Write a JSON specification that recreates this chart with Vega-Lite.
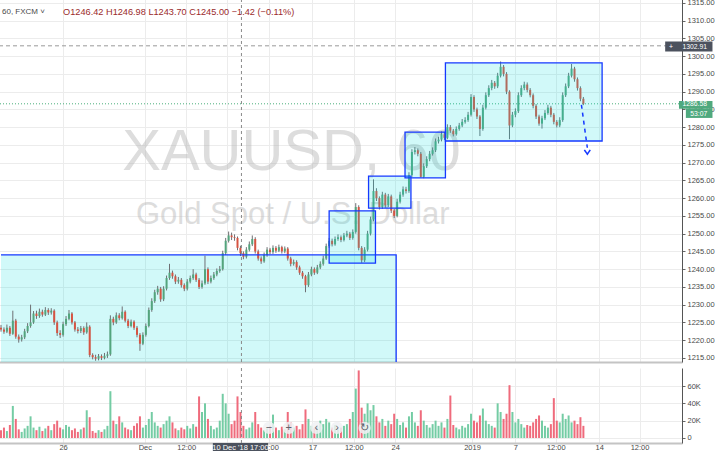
{
  "$schema": "https://vega.github.io/schema/vega-lite/v6.json",
  "padding": {"left": -5, "top": -2, "right": 0, "bottom": 0},
  "spacing": 2,
  "background": "white",
  "config": {"font": "Liberation Sans", "view": {"stroke": null}},
  "datasets": {
    "candles": [
      {"t":0,"o":1223.5,"h":1224.3,"l":1222.4,"c":1223.0,"v":9},
      {"t":3,"o":1223.0,"h":1223.6,"l":1221.8,"c":1222.4,"v":12},
      {"t":6,"o":1222.4,"h":1224.4,"l":1222.0,"c":1223.5,"v":8},
      {"t":9,"o":1223.5,"h":1224.0,"l":1221.2,"c":1221.8,"v":15},
      {"t":12,"o":1221.8,"h":1228.3,"l":1221.5,"c":1225.5,"v":37},
      {"t":15,"o":1225.5,"h":1226.0,"l":1220.4,"c":1221.0,"v":22},
      {"t":18,"o":1221.0,"h":1221.6,"l":1219.3,"c":1220.2,"v":10},
      {"t":21,"o":1220.2,"h":1221.5,"l":1219.6,"c":1220.8,"v":7},
      {"t":24,"o":1220.8,"h":1223.2,"l":1220.3,"c":1222.5,"v":11},
      {"t":27,"o":1222.5,"h":1224.8,"l":1222.0,"c":1224.0,"v":14},
      {"t":30,"o":1224.0,"h":1230.0,"l":1223.5,"c":1225.0,"v":25},
      {"t":33,"o":1225.0,"h":1228.2,"l":1224.6,"c":1227.5,"v":12},
      {"t":36,"o":1227.5,"h":1228.3,"l":1226.0,"c":1226.8,"v":9},
      {"t":39,"o":1226.8,"h":1228.9,"l":1226.3,"c":1228.0,"v":13},
      {"t":42,"o":1228.0,"h":1228.6,"l":1226.6,"c":1227.2,"v":8},
      {"t":45,"o":1227.2,"h":1229.3,"l":1226.8,"c":1228.5,"v":11},
      {"t":48,"o":1228.5,"h":1229.0,"l":1227.1,"c":1227.8,"v":14},
      {"t":51,"o":1227.8,"h":1229.0,"l":1227.2,"c":1228.3,"v":9},
      {"t":54,"o":1228.3,"h":1228.7,"l":1224.3,"c":1225.0,"v":16},
      {"t":57,"o":1225.0,"h":1225.5,"l":1221.2,"c":1222.0,"v":20},
      {"t":60,"o":1222.0,"h":1222.8,"l":1220.6,"c":1221.5,"v":12},
      {"t":63,"o":1221.5,"h":1225.2,"l":1221.0,"c":1224.5,"v":10},
      {"t":66,"o":1224.5,"h":1226.8,"l":1224.0,"c":1226.0,"v":15},
      {"t":69,"o":1226.0,"h":1228.5,"l":1225.6,"c":1227.5,"v":13},
      {"t":72,"o":1227.5,"h":1227.9,"l":1224.4,"c":1225.0,"v":9},
      {"t":75,"o":1225.0,"h":1225.4,"l":1222.4,"c":1223.0,"v":11},
      {"t":78,"o":1223.0,"h":1223.7,"l":1221.9,"c":1222.6,"v":7},
      {"t":81,"o":1222.6,"h":1224.0,"l":1222.0,"c":1223.4,"v":10},
      {"t":84,"o":1223.4,"h":1223.9,"l":1221.5,"c":1222.2,"v":12},
      {"t":87,"o":1222.2,"h":1225.0,"l":1221.8,"c":1223.8,"v":32},
      {"t":90,"o":1223.8,"h":1224.2,"l":1215.2,"c":1215.8,"v":24},
      {"t":93,"o":1215.8,"h":1216.3,"l":1214.6,"c":1215.2,"v":8},
      {"t":96,"o":1215.2,"h":1215.9,"l":1214.2,"c":1214.8,"v":6},
      {"t":99,"o":1214.8,"h":1216.1,"l":1214.3,"c":1215.5,"v":9},
      {"t":102,"o":1215.5,"h":1216.0,"l":1214.4,"c":1215.0,"v":7},
      {"t":105,"o":1215.0,"h":1216.4,"l":1214.6,"c":1215.6,"v":10},
      {"t":108,"o":1215.6,"h":1216.8,"l":1215.0,"c":1216.0,"v":14},
      {"t":111,"o":1216.0,"h":1227.0,"l":1215.6,"c":1226.0,"v":54},
      {"t":114,"o":1226.0,"h":1226.6,"l":1224.2,"c":1225.0,"v":20},
      {"t":117,"o":1225.0,"h":1227.8,"l":1224.6,"c":1227.0,"v":16},
      {"t":120,"o":1227.0,"h":1227.6,"l":1225.6,"c":1226.2,"v":25},
      {"t":123,"o":1226.2,"h":1229.5,"l":1225.8,"c":1228.0,"v":18},
      {"t":126,"o":1228.0,"h":1228.4,"l":1225.0,"c":1225.5,"v":12},
      {"t":129,"o":1225.5,"h":1226.0,"l":1223.4,"c":1224.0,"v":10},
      {"t":132,"o":1224.0,"h":1225.8,"l":1223.6,"c":1225.2,"v":9},
      {"t":135,"o":1225.2,"h":1225.6,"l":1222.9,"c":1223.5,"v":14},
      {"t":138,"o":1223.5,"h":1224.0,"l":1220.8,"c":1221.5,"v":17},
      {"t":141,"o":1221.5,"h":1222.0,"l":1217.0,"c":1219.0,"v":25},
      {"t":144,"o":1219.0,"h":1222.2,"l":1218.6,"c":1221.5,"v":12},
      {"t":147,"o":1221.5,"h":1224.7,"l":1221.0,"c":1224.0,"v":15},
      {"t":150,"o":1224.0,"h":1229.2,"l":1223.6,"c":1228.5,"v":22},
      {"t":153,"o":1228.5,"h":1231.8,"l":1228.0,"c":1231.0,"v":30},
      {"t":156,"o":1231.0,"h":1234.2,"l":1230.5,"c":1233.5,"v":18},
      {"t":159,"o":1233.5,"h":1235.3,"l":1232.8,"c":1234.5,"v":14},
      {"t":162,"o":1234.5,"h":1235.0,"l":1230.8,"c":1231.5,"v":12},
      {"t":165,"o":1231.5,"h":1235.2,"l":1231.0,"c":1234.5,"v":16},
      {"t":168,"o":1234.5,"h":1238.2,"l":1234.0,"c":1237.5,"v":20},
      {"t":171,"o":1237.5,"h":1241.5,"l":1237.0,"c":1239.0,"v":25},
      {"t":174,"o":1239.0,"h":1239.6,"l":1237.3,"c":1238.0,"v":18},
      {"t":177,"o":1238.0,"h":1238.5,"l":1235.8,"c":1236.5,"v":11},
      {"t":180,"o":1236.5,"h":1237.8,"l":1235.9,"c":1237.0,"v":9},
      {"t":183,"o":1237.0,"h":1237.5,"l":1234.8,"c":1235.5,"v":12},
      {"t":186,"o":1235.5,"h":1236.0,"l":1233.8,"c":1234.5,"v":10},
      {"t":189,"o":1234.5,"h":1237.2,"l":1234.0,"c":1236.5,"v":14},
      {"t":192,"o":1236.5,"h":1238.2,"l":1236.0,"c":1237.5,"v":11},
      {"t":195,"o":1237.5,"h":1240.0,"l":1237.0,"c":1238.5,"v":16},
      {"t":198,"o":1238.5,"h":1239.0,"l":1236.4,"c":1237.0,"v":13},
      {"t":201,"o":1237.0,"h":1237.5,"l":1234.4,"c":1235.0,"v":48},
      {"t":204,"o":1235.0,"h":1236.8,"l":1234.5,"c":1236.0,"v":30},
      {"t":207,"o":1236.0,"h":1243.8,"l":1235.6,"c":1240.0,"v":40},
      {"t":210,"o":1240.0,"h":1240.5,"l":1235.8,"c":1236.5,"v":22},
      {"t":213,"o":1236.5,"h":1238.2,"l":1236.0,"c":1237.5,"v":14},
      {"t":216,"o":1237.5,"h":1239.2,"l":1237.0,"c":1238.5,"v":10},
      {"t":219,"o":1238.5,"h":1240.2,"l":1238.0,"c":1239.5,"v":12},
      {"t":222,"o":1239.5,"h":1240.9,"l":1239.0,"c":1240.0,"v":20},
      {"t":225,"o":1240.0,"h":1245.2,"l":1239.6,"c":1244.5,"v":51},
      {"t":228,"o":1244.5,"h":1248.8,"l":1244.0,"c":1248.0,"v":40},
      {"t":231,"o":1248.0,"h":1250.6,"l":1247.5,"c":1249.5,"v":28},
      {"t":234,"o":1249.5,"h":1250.3,"l":1248.2,"c":1249.0,"v":16},
      {"t":237,"o":1249.0,"h":1249.8,"l":1248.0,"c":1248.8,"v":20},
      {"t":240,"o":1248.8,"h":1249.2,"l":1245.3,"c":1246.0,"v":48},
      {"t":243,"o":1246.0,"h":1246.6,"l":1243.7,"c":1244.5,"v":30},
      {"t":246,"o":1244.5,"h":1245.0,"l":1242.8,"c":1243.5,"v":14},
      {"t":249,"o":1243.5,"h":1246.2,"l":1243.0,"c":1245.5,"v":10},
      {"t":252,"o":1245.5,"h":1247.8,"l":1245.0,"c":1247.0,"v":12},
      {"t":255,"o":1247.0,"h":1249.5,"l":1246.5,"c":1248.5,"v":18},
      {"t":258,"o":1248.5,"h":1249.0,"l":1244.4,"c":1245.0,"v":30},
      {"t":261,"o":1245.0,"h":1245.5,"l":1242.4,"c":1243.0,"v":16},
      {"t":264,"o":1243.0,"h":1243.6,"l":1241.5,"c":1242.2,"v":12},
      {"t":267,"o":1242.2,"h":1244.7,"l":1241.8,"c":1244.0,"v":9},
      {"t":270,"o":1244.0,"h":1246.2,"l":1243.5,"c":1245.5,"v":11},
      {"t":273,"o":1245.5,"h":1246.0,"l":1244.2,"c":1244.8,"v":14},
      {"t":276,"o":1244.8,"h":1246.7,"l":1244.3,"c":1246.0,"v":27},
      {"t":279,"o":1246.0,"h":1246.5,"l":1244.6,"c":1245.2,"v":12},
      {"t":282,"o":1245.2,"h":1246.9,"l":1244.8,"c":1246.2,"v":9},
      {"t":285,"o":1246.2,"h":1246.6,"l":1244.4,"c":1245.0,"v":13},
      {"t":288,"o":1245.0,"h":1246.4,"l":1244.5,"c":1245.8,"v":10},
      {"t":291,"o":1245.8,"h":1246.2,"l":1242.4,"c":1243.0,"v":30},
      {"t":294,"o":1243.0,"h":1243.5,"l":1240.8,"c":1241.5,"v":18},
      {"t":297,"o":1241.5,"h":1242.7,"l":1241.0,"c":1242.0,"v":12},
      {"t":300,"o":1242.0,"h":1242.5,"l":1239.8,"c":1240.5,"v":14},
      {"t":303,"o":1240.5,"h":1241.0,"l":1238.4,"c":1239.0,"v":10},
      {"t":306,"o":1239.0,"h":1239.5,"l":1237.3,"c":1238.0,"v":16},
      {"t":309,"o":1238.0,"h":1238.4,"l":1233.5,"c":1235.5,"v":33},
      {"t":312,"o":1235.5,"h":1239.2,"l":1235.0,"c":1238.5,"v":22},
      {"t":315,"o":1238.5,"h":1240.7,"l":1238.0,"c":1240.0,"v":14},
      {"t":318,"o":1240.0,"h":1240.5,"l":1238.4,"c":1239.0,"v":11},
      {"t":321,"o":1239.0,"h":1241.2,"l":1238.6,"c":1240.5,"v":13},
      {"t":324,"o":1240.5,"h":1242.2,"l":1240.0,"c":1241.5,"v":20},
      {"t":327,"o":1241.5,"h":1243.8,"l":1241.0,"c":1243.0,"v":16},
      {"t":330,"o":1243.0,"h":1247.2,"l":1242.6,"c":1246.5,"v":22},
      {"t":333,"o":1246.5,"h":1248.8,"l":1246.0,"c":1248.0,"v":18},
      {"t":336,"o":1248.0,"h":1248.6,"l":1246.4,"c":1247.0,"v":12},
      {"t":339,"o":1247.0,"h":1249.2,"l":1246.6,"c":1248.5,"v":15},
      {"t":342,"o":1248.5,"h":1249.8,"l":1248.0,"c":1249.0,"v":10},
      {"t":345,"o":1249.0,"h":1249.5,"l":1247.6,"c":1248.2,"v":12},
      {"t":348,"o":1248.2,"h":1250.2,"l":1247.8,"c":1249.5,"v":14},
      {"t":351,"o":1249.5,"h":1250.8,"l":1249.0,"c":1250.0,"v":16},
      {"t":354,"o":1250.0,"h":1250.5,"l":1248.2,"c":1248.8,"v":22},
      {"t":357,"o":1248.8,"h":1251.2,"l":1248.3,"c":1250.5,"v":30},
      {"t":360,"o":1250.5,"h":1258.6,"l":1250.0,"c":1257.5,"v":57},
      {"t":363,"o":1257.5,"h":1258.0,"l":1245.3,"c":1246.0,"v":78},
      {"t":366,"o":1246.0,"h":1246.5,"l":1241.8,"c":1242.5,"v":35},
      {"t":369,"o":1242.5,"h":1246.2,"l":1242.0,"c":1245.5,"v":28},
      {"t":372,"o":1245.5,"h":1250.8,"l":1245.0,"c":1250.0,"v":40},
      {"t":375,"o":1250.0,"h":1254.8,"l":1249.5,"c":1254.0,"v":32},
      {"t":378,"o":1254.0,"h":1265.3,"l":1253.5,"c":1262.0,"v":38},
      {"t":381,"o":1262.0,"h":1262.8,"l":1259.2,"c":1260.0,"v":25},
      {"t":384,"o":1260.0,"h":1260.5,"l":1256.8,"c":1257.5,"v":18},
      {"t":387,"o":1257.5,"h":1261.8,"l":1257.0,"c":1261.0,"v":22},
      {"t":390,"o":1261.0,"h":1261.5,"l":1257.3,"c":1258.0,"v":14},
      {"t":393,"o":1258.0,"h":1261.2,"l":1257.5,"c":1260.5,"v":20},
      {"t":396,"o":1260.5,"h":1261.0,"l":1255.8,"c":1256.5,"v":16},
      {"t":399,"o":1256.5,"h":1257.0,"l":1254.4,"c":1255.0,"v":28},
      {"t":402,"o":1255.0,"h":1259.8,"l":1254.6,"c":1259.0,"v":22},
      {"t":405,"o":1259.0,"h":1261.8,"l":1258.5,"c":1261.0,"v":15},
      {"t":408,"o":1261.0,"h":1263.3,"l":1260.4,"c":1262.5,"v":18},
      {"t":411,"o":1262.5,"h":1263.2,"l":1261.3,"c":1262.0,"v":12},
      {"t":414,"o":1262.0,"h":1267.3,"l":1261.5,"c":1266.5,"v":25},
      {"t":417,"o":1266.5,"h":1273.8,"l":1266.0,"c":1273.0,"v":30},
      {"t":420,"o":1273.0,"h":1274.4,"l":1272.3,"c":1273.5,"v":18},
      {"t":423,"o":1273.5,"h":1274.0,"l":1271.8,"c":1272.5,"v":14},
      {"t":426,"o":1272.5,"h":1273.0,"l":1265.8,"c":1266.0,"v":32},
      {"t":429,"o":1266.0,"h":1269.8,"l":1265.6,"c":1269.0,"v":20},
      {"t":432,"o":1269.0,"h":1271.8,"l":1268.5,"c":1271.0,"v":15},
      {"t":435,"o":1271.0,"h":1273.3,"l":1270.4,"c":1272.5,"v":12},
      {"t":438,"o":1272.5,"h":1274.3,"l":1272.0,"c":1273.5,"v":16},
      {"t":441,"o":1273.5,"h":1276.8,"l":1273.0,"c":1276.0,"v":20},
      {"t":444,"o":1276.0,"h":1277.3,"l":1275.4,"c":1276.5,"v":14},
      {"t":447,"o":1276.5,"h":1278.8,"l":1276.0,"c":1278.0,"v":18},
      {"t":450,"o":1278.0,"h":1278.6,"l":1276.4,"c":1277.0,"v":12},
      {"t":453,"o":1277.0,"h":1280.8,"l":1276.6,"c":1280.0,"v":22},
      {"t":456,"o":1280.0,"h":1280.6,"l":1278.4,"c":1279.0,"v":49},
      {"t":459,"o":1279.0,"h":1279.5,"l":1277.4,"c":1278.0,"v":15},
      {"t":462,"o":1278.0,"h":1280.2,"l":1277.6,"c":1279.5,"v":12},
      {"t":465,"o":1279.5,"h":1281.2,"l":1279.0,"c":1280.5,"v":10},
      {"t":468,"o":1280.5,"h":1282.3,"l":1280.0,"c":1281.5,"v":14},
      {"t":471,"o":1281.5,"h":1282.8,"l":1281.0,"c":1282.0,"v":12},
      {"t":474,"o":1282.0,"h":1284.3,"l":1281.5,"c":1283.5,"v":16},
      {"t":477,"o":1283.5,"h":1289.3,"l":1283.0,"c":1288.5,"v":28},
      {"t":480,"o":1288.5,"h":1289.0,"l":1284.3,"c":1285.0,"v":20},
      {"t":483,"o":1285.0,"h":1285.5,"l":1282.3,"c":1283.0,"v":18},
      {"t":486,"o":1283.0,"h":1283.4,"l":1277.5,"c":1279.5,"v":26},
      {"t":489,"o":1279.5,"h":1286.3,"l":1279.0,"c":1285.5,"v":34},
      {"t":492,"o":1285.5,"h":1289.8,"l":1285.0,"c":1289.0,"v":20},
      {"t":495,"o":1289.0,"h":1291.8,"l":1288.5,"c":1291.0,"v":16},
      {"t":498,"o":1291.0,"h":1293.3,"l":1290.4,"c":1292.5,"v":14},
      {"t":501,"o":1292.5,"h":1293.0,"l":1290.8,"c":1291.5,"v":12},
      {"t":504,"o":1291.5,"h":1295.3,"l":1291.0,"c":1294.5,"v":40},
      {"t":507,"o":1294.5,"h":1298.5,"l":1294.0,"c":1297.0,"v":30},
      {"t":510,"o":1297.0,"h":1297.5,"l":1294.3,"c":1295.0,"v":22},
      {"t":513,"o":1295.0,"h":1295.5,"l":1289.3,"c":1290.0,"v":28},
      {"t":516,"o":1290.0,"h":1290.4,"l":1276.6,"c":1280.5,"v":61},
      {"t":519,"o":1280.5,"h":1284.3,"l":1280.0,"c":1283.5,"v":30},
      {"t":522,"o":1283.5,"h":1285.3,"l":1282.8,"c":1284.5,"v":18},
      {"t":525,"o":1284.5,"h":1289.8,"l":1284.0,"c":1289.0,"v":22},
      {"t":528,"o":1289.0,"h":1291.8,"l":1288.5,"c":1291.0,"v":16},
      {"t":531,"o":1291.0,"h":1292.8,"l":1290.4,"c":1292.0,"v":12},
      {"t":534,"o":1292.0,"h":1292.6,"l":1289.8,"c":1290.5,"v":15},
      {"t":537,"o":1290.5,"h":1291.0,"l":1288.4,"c":1289.0,"v":14},
      {"t":540,"o":1289.0,"h":1289.5,"l":1285.3,"c":1286.0,"v":18},
      {"t":543,"o":1286.0,"h":1286.5,"l":1282.3,"c":1283.0,"v":22},
      {"t":546,"o":1283.0,"h":1283.5,"l":1280.4,"c":1281.0,"v":26},
      {"t":549,"o":1281.0,"h":1283.2,"l":1279.6,"c":1282.5,"v":20},
      {"t":552,"o":1282.5,"h":1284.8,"l":1282.0,"c":1284.0,"v":14},
      {"t":555,"o":1284.0,"h":1286.3,"l":1283.5,"c":1285.5,"v":12},
      {"t":558,"o":1285.5,"h":1286.0,"l":1282.8,"c":1283.5,"v":16},
      {"t":561,"o":1283.5,"h":1284.0,"l":1280.8,"c":1281.5,"v":46},
      {"t":564,"o":1281.5,"h":1282.0,"l":1279.9,"c":1280.5,"v":20},
      {"t":567,"o":1280.5,"h":1282.8,"l":1280.0,"c":1282.0,"v":18},
      {"t":570,"o":1282.0,"h":1289.8,"l":1281.5,"c":1289.0,"v":28},
      {"t":573,"o":1289.0,"h":1292.3,"l":1288.5,"c":1291.5,"v":22},
      {"t":576,"o":1291.5,"h":1295.3,"l":1291.0,"c":1294.5,"v":26},
      {"t":579,"o":1294.5,"h":1297.8,"l":1294.0,"c":1296.5,"v":18},
      {"t":582,"o":1296.5,"h":1297.0,"l":1292.8,"c":1293.5,"v":20},
      {"t":585,"o":1293.5,"h":1294.0,"l":1290.3,"c":1291.0,"v":16},
      {"t":588,"o":1291.0,"h":1291.5,"l":1287.3,"c":1288.0,"v":24},
      {"t":591,"o":1288.0,"h":1288.5,"l":1286.2,"c":1286.58,"v":14}
    ],
    "boxes": [
      {"t":333,"t2":380,"p":1256.4,"p2":1241.7},
      {"t":373,"t2":416,"p":1266.2,"p2":1257.2},
      {"t":410,"t2":451,"p":1278.6,"p2":1265.7},
      {"t":451,"t2":610,"p":1298.1,"p2":1276.1}
    ]
  },
  "vconcat": [
    {
      "width": 686,
      "height": 363,
      "encoding": {
        "x": {"field": "t", "type": "quantitative", "scale": {"domain": [0, 686], "nice": false, "zero": false},
              "axis": {"title": null, "values": [63,146,188,229,272,316,358,400,478,522,563,607,648], "labels": false, "ticks": false, "grid": true, "gridColor": "#ececec", "domain": true, "domainColor": "#c4c4c4", "domainWidth": 2}},
        "y": {"field": "p", "type": "quantitative", "scale": {"domain": [1213.85, 1316.1], "nice": false, "zero": false},
              "axis": {"title": null, "orient": "right", "values": [1215,1220,1225,1230,1235,1240,1245,1250,1255,1260,1265,1270,1275,1280,1285,1290,1295,1300,1305,1310,1315], "format": ".2f", "grid": true, "gridColor": "#ececec", "domain": true, "domainColor": "#555555", "tickSize": 3, "tickColor": "#666666", "labelFontSize": 7.5, "labelColor": "#4a4a4a", "labelPadding": 2}}
      },
      "layer": [
        {
          "data": {"values": [{"t":123,"p":1267.9,"s":"XAUUSD, 60"}]},
          "mark": {"type": "text", "align": "left", "baseline": "alphabetic", "fontSize": 58, "color": "#b4b4b4", "opacity": 0.45},
          "encoding": {"text": {"field": "s"}}
        },
        {
          "data": {"values": [{"t":137,"p":1252.6,"s":"Gold Spot / U.S. Dollar"}]},
          "mark": {"type": "text", "align": "left", "baseline": "alphabetic", "fontSize": 31, "color": "#b4b4b4", "opacity": 0.45},
          "encoding": {"text": {"field": "s"}}
        },
        {
          "data": {"values": [{"p":1302.91}]},
          "mark": {"type": "rule", "color": "#9a9a9a", "strokeDash": [4, 3], "strokeWidth": 1},
          "encoding": {"x": null}
        },
        {
          "data": {"values": [{"p":1286.58}]},
          "mark": {"type": "rule", "color": "#4caf7d", "strokeDash": [1, 2], "strokeWidth": 1},
          "encoding": {"x": null}
        },
        {
          "data": {"values": [{"t":0,"t2":401,"p":1244.0,"p2":1213.85}]},
          "mark": {"type": "rect", "fill": "#00e0e0", "fillOpacity": 0.18},
          "encoding": {"x2": {"field": "t2"}, "y2": {"field": "p2"}}
        },
        {
          "data": {"name": "candles"},
          "mark": {"type": "rule", "color": "#6e6f73", "strokeWidth": 1},
          "encoding": {
            "y": {"field": "l", "type": "quantitative"},
            "y2": {"field": "h"}
          }
        },
        {
          "data": {"name": "candles"},
          "mark": {"type": "bar", "orient": "vertical", "size": 2},
          "encoding": {
            "y": {"field": "o", "type": "quantitative"},
            "y2": {"field": "c"},
            "color": {"condition": {"test": "datum.c >= datum.o", "value": "#53a57d"}, "value": "#d75442"}
          }
        },
        {
          "data": {"values": [{"t":0,"p":1244.0,"k":1},{"t":401,"p":1244.0,"k":2},{"t":401,"p":1213.85,"k":3}]},
          "mark": {"type": "line", "color": "#1538ff", "strokeWidth": 1.3},
          "encoding": {"order": {"field": "k"}}
        },
        {
          "data": {"name": "boxes"},
          "mark": {"type": "rect", "fill": "#00e0e0", "fillOpacity": 0.18, "stroke": "#1538ff", "strokeWidth": 1.3},
          "encoding": {
            "x2": {"field": "t2"},
            "y2": {"field": "p2"}
          }
        },
        {
          "data": {"values": [
            {"t":589,"p":1286.3,"g":"a"},{"t":595,"p":1274.2,"g":"a"},
            {"t":592,"p":1273.6,"g":"b"},{"t":595,"p":1272.4,"g":"b"},{"t":598,"p":1273.6,"g":"b"}
          ]},
          "mark": {"type": "line", "color": "#1538ff", "strokeWidth": 1.5},
          "encoding": {
            "detail": {"field": "g"},
            "strokeDash": {"field": "g", "type": "nominal", "scale": {"domain": ["a", "b"], "range": [[4, 4], [1, 0]]}, "legend": null}
          }
        },
        {
          "data": {"values": [{"t":1,"p":1312.4,"s":"60, FXCM ˅"}]},
          "mark": {"type": "text", "align": "left", "baseline": "middle", "fontSize": 8, "color": "#4a4a4a"},
          "encoding": {"text": {"field": "s"}}
        },
        {
          "data": {"values": [{"t":63,"p":1312.4,"s":"O1246.42  H1246.98  L1243.70  C1245.00  −1.42 (−0.11%)"}]},
          "mark": {"type": "text", "align": "left", "baseline": "middle", "fontSize": 9.2, "color": "#9b2b2b"},
          "encoding": {"text": {"field": "s"}}
        },
        {
          "data": {"values": [{"t":674,"t2":722,"p":1304.1,"p2":1301.3}]},
          "mark": {"type": "rect", "fill": "#4c525e"},
          "encoding": {"x2": {"field": "t2"}, "y2": {"field": "p2"}}
        },
        {
          "data": {"values": [{"t":688,"t2":722,"p":1287.4,"p2":1285.2},{"t":695,"t2":722,"p":1285.2,"p2":1282.6}]},
          "mark": {"type": "rect", "fill": "#4fa97e"},
          "encoding": {"x2": {"field": "t2"}, "y2": {"field": "p2"}}
        },
        {
          "data": {"values": [
            {"t":680,"p":1302.7,"s":"+"},
            {"t":704,"p":1302.7,"s":"1302.91"},
            {"t":704,"p":1286.45,"s":"1286.58"},
            {"t":708,"p":1283.8,"s":"53:07"}
          ]},
          "mark": {"type": "text", "align": "center", "baseline": "middle", "fontSize": 6.8, "color": "white"},
          "encoding": {"text": {"field": "s"}}
        },
        {
          "data": {"values": [{"t":244}]},
          "mark": {"type": "rule", "color": "#8a8a8a", "strokeDash": [3, 3], "strokeWidth": 1},
          "encoding": {"y": null}
        }
      ]
    },
    {
      "width": 686,
      "height": 75,
      "encoding": {
        "x": {"field": "t", "type": "quantitative", "scale": {"domain": [0, 686], "nice": false, "zero": false},
              "axis": {"title": null, "values": [63,146,188,229,272,316,358,400,478,522,563,607,648],
                       "labelExpr": "['26','Dec','12:00','10','12:00','17','12:00','24','2019','7','12:00','14','12:00'][indexof([63,146,188,229,272,316,358,400,478,522,563,607,648], datum.value)]",
                       "grid": true, "gridColor": "#ececec", "domain": true, "domainColor": "#c4c4c4", "domainWidth": 2, "ticks": false, "tickSize": 0, "labelFontSize": 7.5, "labelColor": "#4a4a4a", "labelPadding": 0.5, "labelFlush": false, "labelOverlap": false}},
        "y": {"field": "v", "type": "quantitative", "scale": {"domain": [-5.8, 80.8], "nice": false, "zero": false},
              "axis": {"title": null, "orient": "right", "values": [0, 20, 40, 60], "labelExpr": "datum.value == 0 ? '0' : datum.value + 'K'", "grid": true, "gridColor": "#ececec", "domain": true, "domainColor": "#555555", "tickSize": 3, "tickColor": "#666666", "labelFontSize": 7.5, "labelColor": "#4a4a4a", "labelPadding": 2}}
      },
      "layer": [
        {
          "data": {"name": "candles"},
          "mark": {"type": "bar", "orient": "vertical", "size": 2},
          "encoding": {
            "y2": {"datum": 0},
            "color": {"condition": {"test": "datum.c >= datum.o", "value": "#74cca4"}, "value": "#ef6b7c"}
          }
        },
        {
          "data": {"values": [{"t":272,"v":11.6},{"t":292,"v":11.6},{"t":320,"v":11.6},{"t":341,"v":11.6},{"t":369,"v":11.6}]},
          "mark": {"type": "point", "filled": true, "size": 150, "color": "#f0f1f3", "opacity": 0.85}
        },
        {
          "data": {"values": [{"t":272,"v":11.6,"s":"−"},{"t":292,"v":11.6,"s":"+"},{"t":320,"v":11.6,"s":"‹"},{"t":341,"v":11.6,"s":"›"},{"t":369,"v":11.6,"s":"↻"}]},
          "mark": {"type": "text", "align": "center", "baseline": "middle", "fontSize": 11, "color": "#5d606b"},
          "encoding": {"text": {"field": "s"}}
        },
        {
          "data": {"values": [{"t":244}]},
          "mark": {"type": "rule", "color": "#8a8a8a", "strokeDash": [3, 3], "strokeWidth": 1},
          "encoding": {"y": null}
        },
        {
          "data": {"values": [{"t":215,"t2":271,"v":-5.7,"v2":-17.3}]},
          "mark": {"type": "rect", "fill": "#4c525e"},
          "encoding": {"x2": {"field": "t2"}, "y2": {"field": "v2"}}
        },
        {
          "data": {"values": [{"t":243,"v":-11.3,"s":"10 Dec '18   17:00"}]},
          "mark": {"type": "text", "align": "center", "baseline": "middle", "fontSize": 7.5, "color": "white"},
          "encoding": {"text": {"field": "s"}}
        }
      ]
    }
  ]
}
